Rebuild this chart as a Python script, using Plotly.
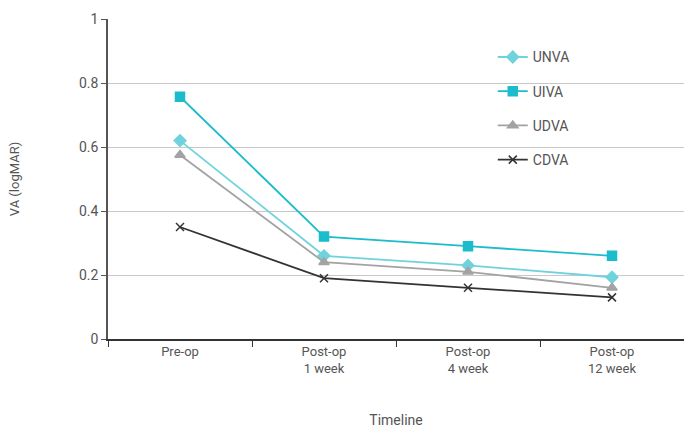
import plotly.graph_objects as go

categories = ["Pre-op", "Post-op<br>1 week", "Post-op<br>4 week", "Post-op<br>12 week"]
unva = [0.62, 0.26, 0.23, 0.193]
uiva = [0.757, 0.32, 0.29, 0.26]
udva = [0.575, 0.24, 0.21, 0.16]
cdva = [0.35, 0.19, 0.16, 0.13]
y_ticks = [0, 0.2, 0.4, 0.6, 0.8, 1]
y_labels = ["0", "0.2", "0.4", "0.6", "0.8", "1"]

FONT = "Roboto, Arial"

fig = go.Figure()
series = [
    ("UNVA", unva, "#6fd3dd", "diamond", 9),
    ("UIVA", uiva, "#1bbccb", "square", 9),
    ("UDVA", udva, "#a3a3a3", "triangle-up", 9),
    ("CDVA", cdva, "#333333", "x-thin", 8),
]
for name, vals, color, sym, size in series:
    fig.add_trace(go.Scatter(
        x=categories, y=vals, name=name, legendgroup=name, mode="lines+markers",
        line=dict(color=color, width=1.8),
        marker=dict(symbol=sym, size=size, color=color,
                    line=dict(color=color, width=1.5)),
    ))

fig.update_layout(
    width=684, height=430,
    margin=dict(l=108, r=0, t=19, b=91),
    paper_bgcolor="white", plot_bgcolor="white",
    font=dict(family=FONT, size=13, color="#555555"),
    showlegend=True,
    legend=dict(x=0.668, y=0.93, xanchor="left", yanchor="top",
                bgcolor="rgba(0,0,0,0)", font=dict(size=14, color="#555555"),
                tracegroupgap=13, itemwidth=30),
)
fig.update_xaxes(
    type="category", range=[-0.5, 3.5],
    showline=True, linecolor="#333333", linewidth=1.5,
    ticks="outside", tickson="boundaries", ticklen=6, tickcolor="#333333",
    showgrid=False,
    title=dict(text="Timeline", standoff=40, font=dict(size=14)),
)
fig.update_yaxes(
    range=[0, 1], tickvals=y_ticks, ticktext=y_labels,
    showline=True, linecolor="#555555", linewidth=1.5,
    ticks="outside", ticklen=5, tickcolor="#555555",
    showgrid=True, gridcolor="#c8c8c8", gridwidth=1.2,
    zeroline=False,
    title=dict(text="VA (logMAR)", standoff=56, font=dict(size=13)),
    tickfont=dict(size=14),
)

fig.write_html("out.html")
